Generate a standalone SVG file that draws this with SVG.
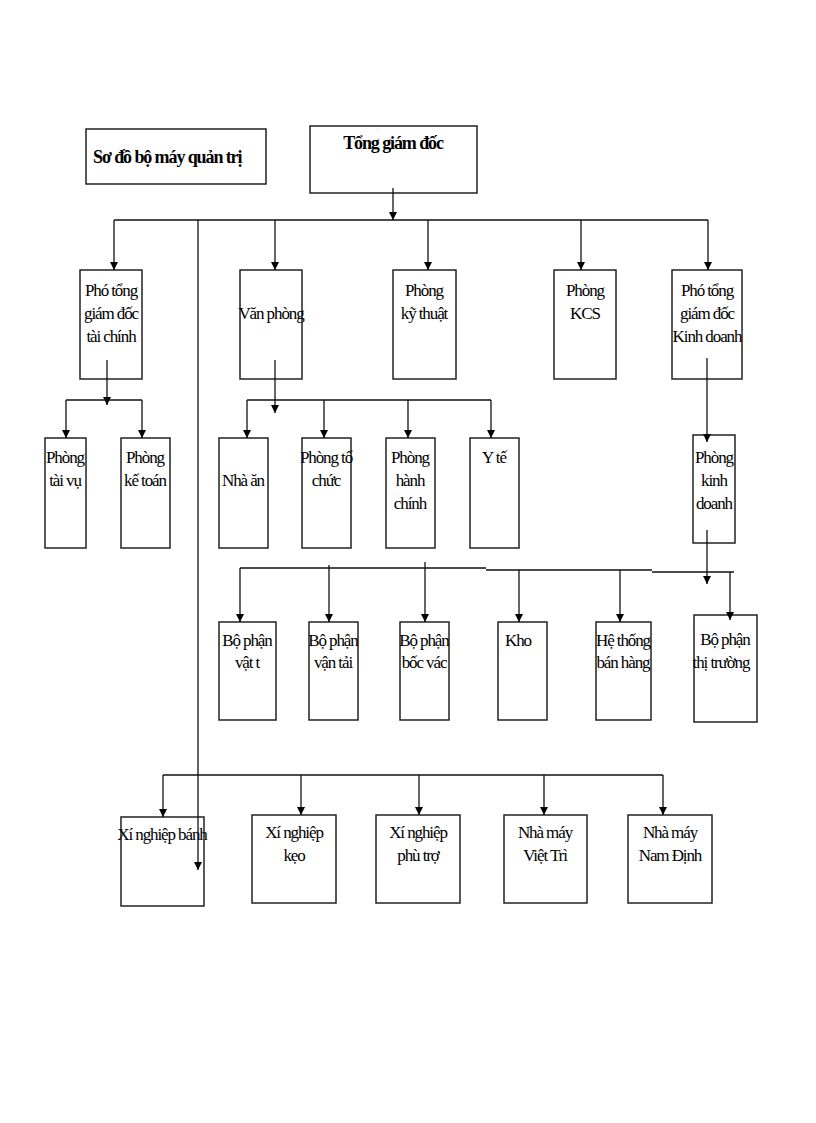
<svg xmlns="http://www.w3.org/2000/svg" width="816" height="1123" viewBox="0 0 816 1123">
<style>
rect{fill:#fff;stroke:#222;stroke-width:1.5}
text{font-family:"Liberation Serif",serif;font-size:17px;fill:#000;text-anchor:middle;letter-spacing:-1.1px}
.t{font-weight:bold;text-anchor:start;font-size:18px}
#c line{stroke:#111;stroke-width:1.3}
.a{marker-end:url(#ar2)}
</style>
<defs><marker id="ar2" markerWidth="8" markerHeight="10" refX="5" refY="10" viewBox="0 0 10 10" markerUnits="userSpaceOnUse"><path d="M0,0L10,0L5,10z" fill="#000"/></marker></defs>
<g id="title"><rect x="86" y="129" width="180" height="55"/><text class="t" x="93" y="163">Sơ đồ bộ máy quản trị</text></g>
<g id="tgd"><rect x="310" y="126" width="167" height="67"/><text x="393" y="149" style="font-weight:bold;font-size:18px">Tổng giám đốc</text></g>
<g id="n1"><rect x="80" y="270" width="62" height="109"/><text x="111" y="296">Phó tổng</text><text x="111" y="319">giám đốc</text><text x="111" y="342">tài chính</text></g>
<g id="n2"><rect x="240" y="270" width="62" height="109"/><text x="271" y="319">Văn phòng</text></g>
<g id="n3"><rect x="393" y="270" width="63" height="109"/><text x="424" y="296">Phòng</text><text x="424" y="319">kỹ thuật</text></g>
<g id="n4"><rect x="554" y="270" width="62" height="109"/><text x="585" y="296">Phòng</text><text x="585" y="319">KCS</text></g>
<g id="n5"><rect x="672" y="270" width="70" height="109"/><text x="707" y="296">Phó tổng</text><text x="707" y="319">giám đốc</text><text x="707" y="342">Kinh doanh</text></g>
<g id="n6"><rect x="45" y="438" width="41" height="110"/><text x="65" y="463">Phòng</text><text x="65" y="486">tài vụ</text></g>
<g id="n7"><rect x="121" y="438" width="49" height="110"/><text x="145" y="463">Phòng</text><text x="145" y="486">kế toán</text></g>
<g id="n8"><rect x="219" y="438" width="49" height="110"/><text x="243" y="486">Nhà ăn</text></g>
<g id="n9"><rect x="302" y="438" width="49" height="110"/><text x="326" y="463">Phòng tổ</text><text x="326" y="486">chức</text></g>
<g id="n10"><rect x="386" y="438" width="49" height="110"/><text x="410" y="463">Phòng</text><text x="410" y="486">hành</text><text x="410" y="509">chính</text></g>
<g id="n11"><rect x="470" y="438" width="49" height="110"/><text x="494" y="463">Y tế</text></g>
<g id="n12"><rect x="693" y="435" width="42" height="108"/><text x="714" y="463">Phòng</text><text x="714" y="486">kinh</text><text x="714" y="509">doanh</text></g>
<g id="n13"><rect x="219" y="622" width="57" height="98"/><text x="247" y="646">Bộ phận</text><text x="247" y="668">vật t</text></g>
<g id="n14"><rect x="309" y="622" width="49" height="98"/><text x="333" y="646">Bộ phận</text><text x="333" y="668">vận tải</text></g>
<g id="n15"><rect x="400" y="622" width="49" height="98"/><text x="424" y="646">Bộ phận</text><text x="424" y="668">bốc vác</text></g>
<g id="n16"><rect x="498" y="622" width="49" height="98"/><text x="518" y="646">Kho</text></g>
<g id="n17"><rect x="596" y="622" width="55" height="98"/><text x="623" y="646">Hệ thống</text><text x="623" y="668">bán hàng</text></g>
<g id="n18"><rect x="694" y="615" width="63" height="107"/><text x="725" y="645">Bộ phận</text><text x="721" y="668">thị trường</text></g>
<g id="n19"><rect x="121" y="817" width="83" height="89"/><text x="162" y="840">Xí nghiệp bánh</text></g>
<g id="n20"><rect x="252" y="815" width="84" height="88"/><text x="294" y="838">Xí nghiệp</text><text x="294" y="861">kẹo</text></g>
<g id="n21"><rect x="376" y="815" width="84" height="88"/><text x="418" y="838">Xí nghiệp</text><text x="418" y="861">phù trợ</text></g>
<g id="n22"><rect x="504" y="815" width="83" height="88"/><text x="545" y="838">Nhà máy</text><text x="545" y="861">Việt Trì</text></g>
<g id="n23"><rect x="628" y="815" width="84" height="88"/><text x="670" y="838">Nhà máy</text><text x="670" y="861">Nam Định</text></g>
<g id="c">
<line x1="393" y1="188" x2="393" y2="220" class="a"/>
<line x1="114" y1="220" x2="708" y2="220"/>
<line x1="198" y1="220" x2="198" y2="870" class="a"/>
<line x1="114" y1="220" x2="114" y2="270" class="a"/>
<line x1="275" y1="220" x2="275" y2="270" class="a"/>
<line x1="428" y1="220" x2="428" y2="270" class="a"/>
<line x1="581" y1="220" x2="581" y2="270" class="a"/>
<line x1="708" y1="220" x2="708" y2="270" class="a"/>
<line x1="107" y1="360" x2="107" y2="405" class="a"/>
<line x1="66" y1="400" x2="142" y2="400"/>
<line x1="66" y1="400" x2="66" y2="438" class="a"/>
<line x1="142" y1="400" x2="142" y2="438" class="a"/>
<line x1="275" y1="360" x2="275" y2="413" class="a"/>
<line x1="247" y1="400" x2="491" y2="400"/>
<line x1="247" y1="400" x2="247" y2="438" class="a"/>
<line x1="324" y1="400" x2="324" y2="438" class="a"/>
<line x1="408" y1="400" x2="408" y2="438" class="a"/>
<line x1="491" y1="400" x2="491" y2="438" class="a"/>
<line x1="707" y1="358" x2="707" y2="442" class="a"/>
<line x1="707" y1="530" x2="707" y2="584" class="a"/>
<line x1="240" y1="568" x2="486" y2="568"/>
<line x1="486" y1="570" x2="652" y2="570"/>
<line x1="652" y1="572" x2="734" y2="572"/>
<line x1="240" y1="568" x2="240" y2="622" class="a"/>
<line x1="329" y1="565" x2="329" y2="622" class="a"/>
<line x1="425" y1="562" x2="425" y2="622" class="a"/>
<line x1="519" y1="570" x2="519" y2="622" class="a"/>
<line x1="620" y1="570" x2="620" y2="622" class="a"/>
<line x1="730" y1="572" x2="730" y2="620" class="a"/>
<line x1="163" y1="775" x2="663" y2="775"/>
<line x1="163" y1="775" x2="163" y2="817" class="a"/>
<line x1="301" y1="775" x2="301" y2="815" class="a"/>
<line x1="419" y1="775" x2="419" y2="815" class="a"/>
<line x1="544" y1="775" x2="544" y2="815" class="a"/>
<line x1="663" y1="775" x2="663" y2="815" class="a"/>
</g>
</svg>
